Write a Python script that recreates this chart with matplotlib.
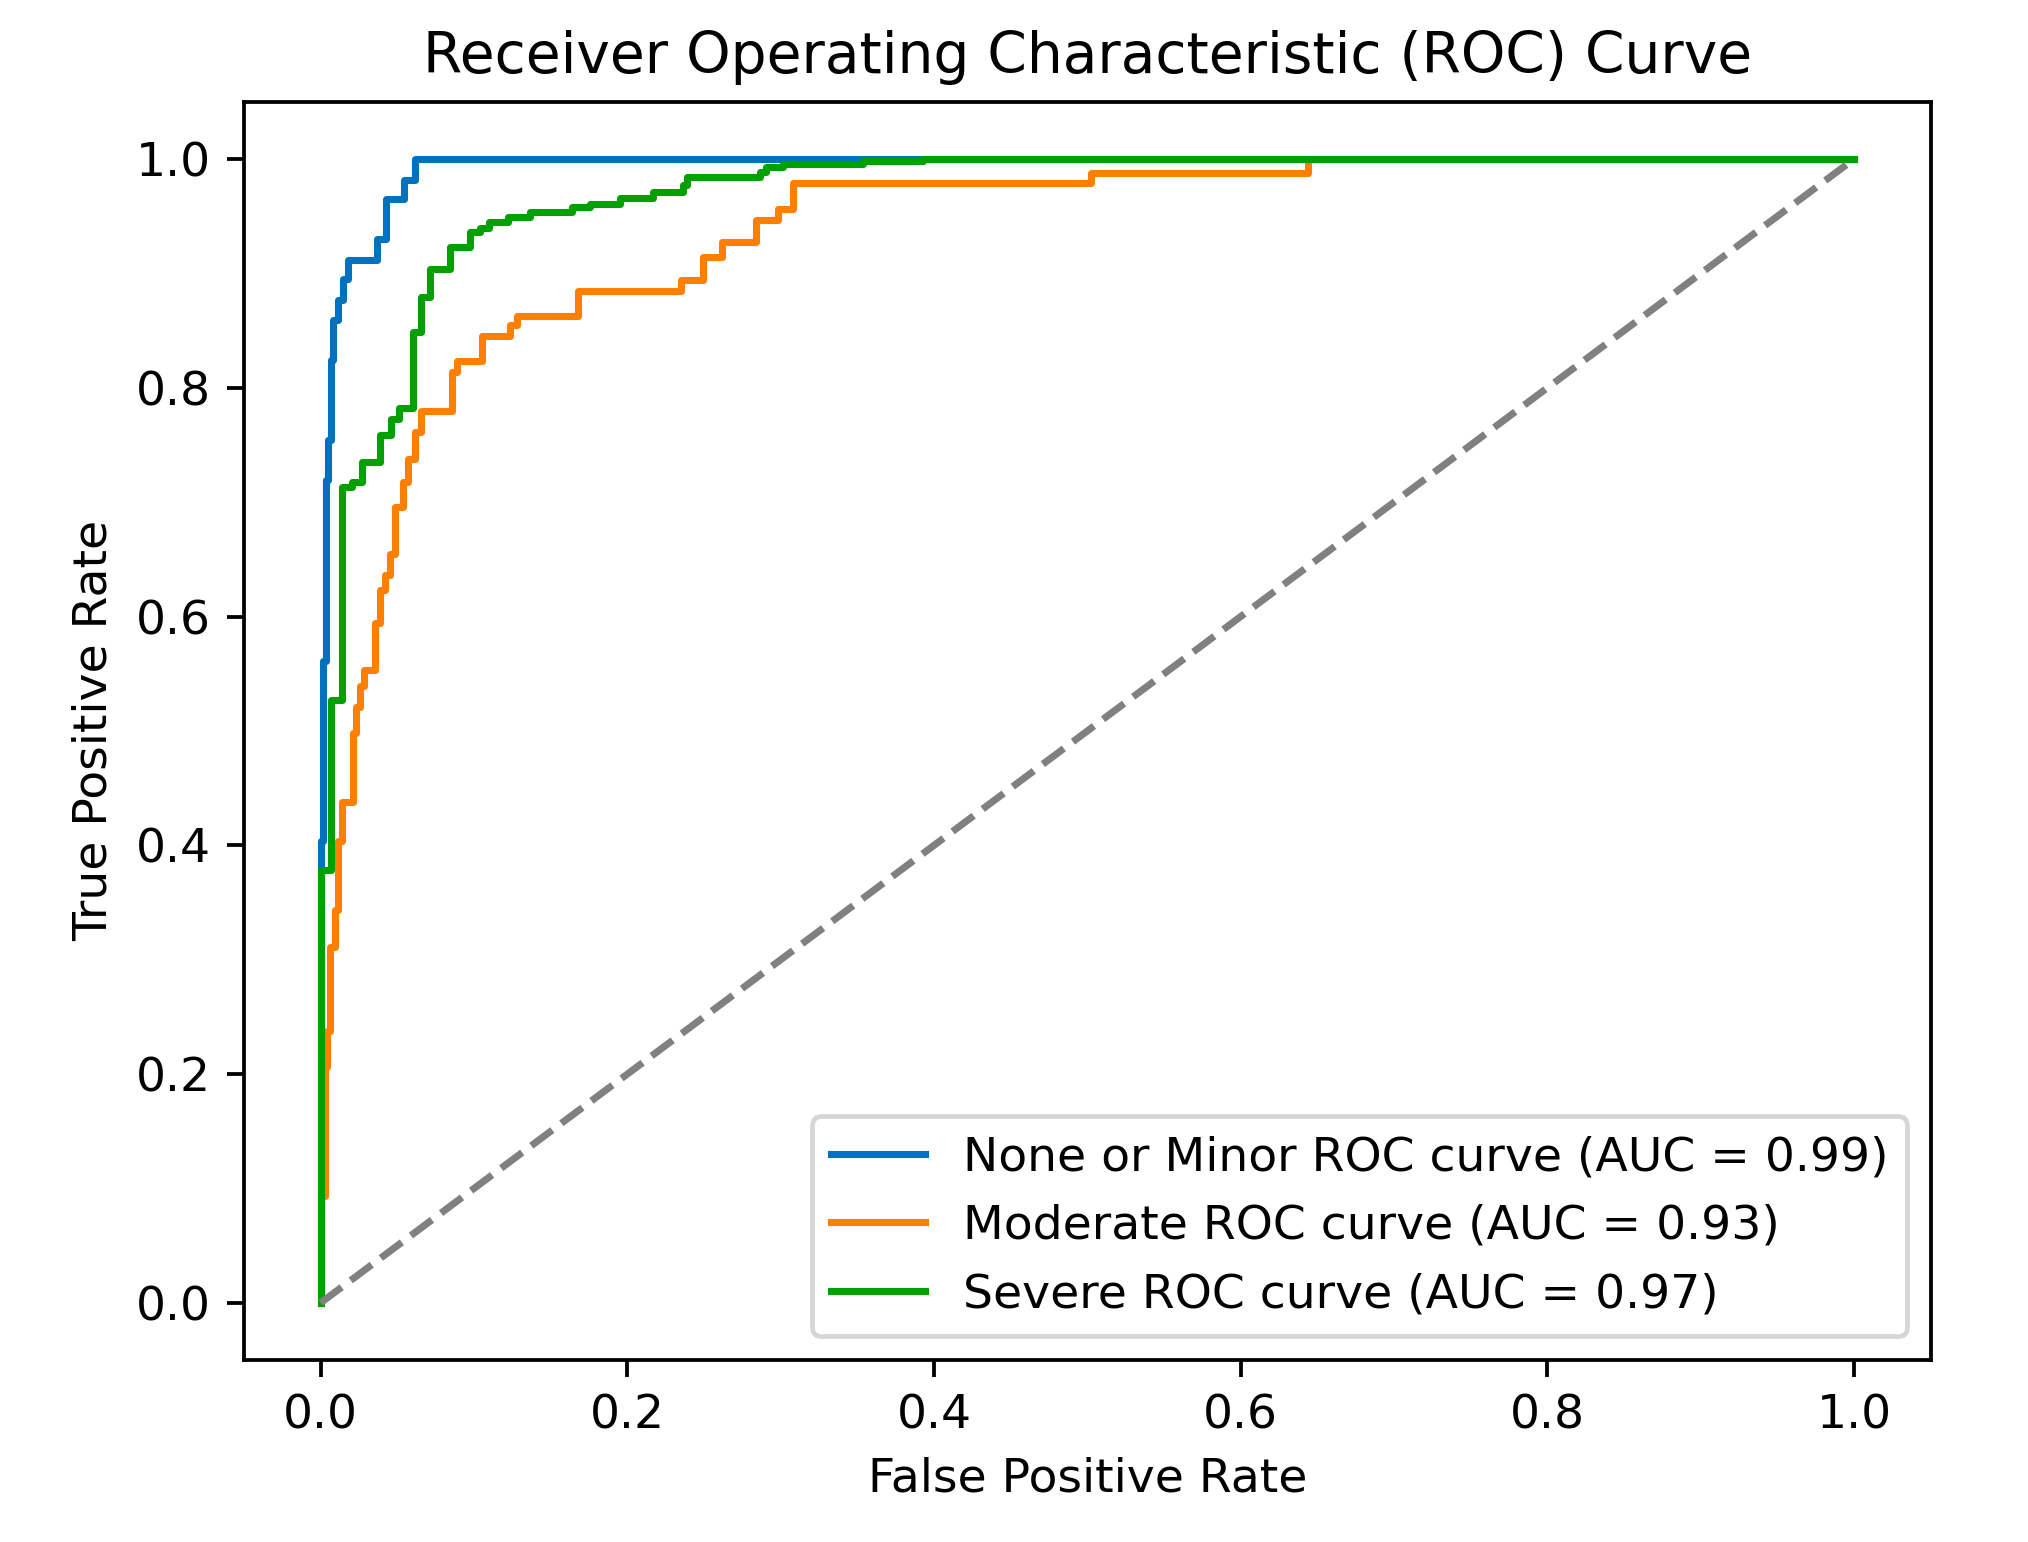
#!/usr/bin/env python3

import numpy as np
import matplotlib
matplotlib.use("Agg")
import matplotlib.pyplot as plt

# ROC step vertices
minor_fpr = [0, 0, 0.0017, 0.0017, 0.0033, 0.0033, 0.005, 0.005, 0.0065, 0.0065,
             0.0078, 0.0078, 0.0115, 0.0115, 0.0147, 0.0147, 0.018, 0.018,
             0.0365, 0.0365, 0.0426, 0.0426, 0.0545, 0.0545, 0.0615, 0.0615, 1.0]
minor_tpr = [0, 0.404, 0.404, 0.561, 0.561, 0.719, 0.719, 0.754, 0.754, 0.824,
             0.824, 0.859, 0.859, 0.877, 0.877, 0.895, 0.895, 0.912,
             0.912, 0.930, 0.930, 0.965, 0.965, 0.982, 0.982, 1.0, 1.0]

moderate_fpr = [0, 0, 0.0028, 0.0028, 0.0043, 0.0043, 0.0061, 0.0061, 0.0093, 0.0093,
                0.011, 0.011, 0.0141, 0.0141, 0.0213, 0.0213, 0.0228, 0.0228,
                0.0256, 0.0256, 0.0284, 0.0284, 0.0354, 0.0354, 0.0387, 0.0387,
                0.0419, 0.0419, 0.0452, 0.0452, 0.0484, 0.0484, 0.0539, 0.0539,
                0.0572, 0.0572, 0.0615, 0.0615, 0.0655, 0.0655, 0.0854, 0.0854,
                0.0887, 0.0887, 0.105, 0.105, 0.1234, 0.1234, 0.1278, 0.1278,
                0.168, 0.168, 0.2353, 0.2353, 0.2494, 0.2494, 0.2614, 0.2614,
                0.2842, 0.2842, 0.2983, 0.2983, 0.3081, 0.3081, 0.5026, 0.5026,
                0.6438, 0.6438, 1.0]
moderate_tpr = [0, 0.093, 0.093, 0.206, 0.206, 0.238, 0.238, 0.311, 0.311, 0.343,
                0.343, 0.404, 0.404, 0.438, 0.438, 0.498, 0.498, 0.521,
                0.521, 0.539, 0.539, 0.553, 0.553, 0.594, 0.594, 0.623,
                0.623, 0.636, 0.636, 0.655, 0.655, 0.696, 0.696, 0.718,
                0.718, 0.738, 0.738, 0.761, 0.761, 0.780, 0.780, 0.814,
                0.814, 0.823, 0.823, 0.845, 0.845, 0.855, 0.855, 0.863,
                0.863, 0.885, 0.885, 0.894, 0.894, 0.914, 0.914, 0.927,
                0.927, 0.947, 0.947, 0.956, 0.956, 0.979, 0.979, 0.988,
                0.988, 1.0, 1.0]

severe_fpr = [0, 0, 0.0068, 0.0068, 0.0141, 0.0141, 0.0202, 0.0202, 0.0271, 0.0271,
              0.0387, 0.0387, 0.046, 0.046, 0.0513, 0.0513, 0.060, 0.060,
              0.0654, 0.0654, 0.0713, 0.0713, 0.0843, 0.0843, 0.0973, 0.0973,
              0.104, 0.104, 0.110, 0.110, 0.122, 0.122, 0.1365, 0.1365,
              0.1636, 0.1636, 0.1756, 0.1756, 0.195, 0.195, 0.2168, 0.2168,
              0.2364, 0.2364, 0.2386, 0.2386, 0.2864, 0.2864, 0.2907, 0.2907,
              0.3016, 0.3016, 0.3537, 0.3537, 0.3928, 0.3928, 0.399, 0.399, 1.0]
severe_tpr = [0, 0.378, 0.378, 0.527, 0.527, 0.713, 0.713, 0.718, 0.718, 0.735,
              0.735, 0.759, 0.759, 0.773, 0.773, 0.782, 0.782, 0.849,
              0.849, 0.879, 0.879, 0.904, 0.904, 0.923, 0.923, 0.936,
              0.936, 0.940, 0.940, 0.945, 0.945, 0.949, 0.949, 0.954,
              0.954, 0.958, 0.958, 0.961, 0.961, 0.966, 0.966, 0.971,
              0.971, 0.977, 0.977, 0.984, 0.984, 0.989, 0.989, 0.993,
              0.993, 0.9955, 0.9955, 0.998, 0.998, 1.0, 1.0, 1.0, 1.0]

class_names = ["None or Minor", "Moderate", "Severe"]
auc_values = [0.99, 0.93, 0.97]
colors = ["#0071bc", "#ff7f00", "#00a000"]


def main():
    dpi = 340
    fig = plt.figure(figsize=(2028 / dpi, 1542 / dpi), dpi=dpi)
    ax = fig.add_axes([0.1203, 0.1180, 0.8318, 0.8160])

    curves = [(minor_fpr, minor_tpr), (moderate_fpr, moderate_tpr), (severe_fpr, severe_tpr)]
    for (fpr, tpr), name, auc, c in zip(curves, class_names, auc_values, colors):
        ax.plot(fpr, tpr, lw=1.5, color=c, label=f"{name} ROC curve (AUC = {auc:.2f})")

    ax.plot([0, 1], [0, 1], color="gray", linestyle="--", lw=1.5)
    ax.set_xlabel("False Positive Rate")
    ax.set_ylabel("True Positive Rate")
    ax.set_title("Receiver Operating Characteristic (ROC) Curve")
    ax.legend(loc="lower right")

    fig.savefig("out.png", dpi=dpi)


if __name__ == '__main__':
    main()
